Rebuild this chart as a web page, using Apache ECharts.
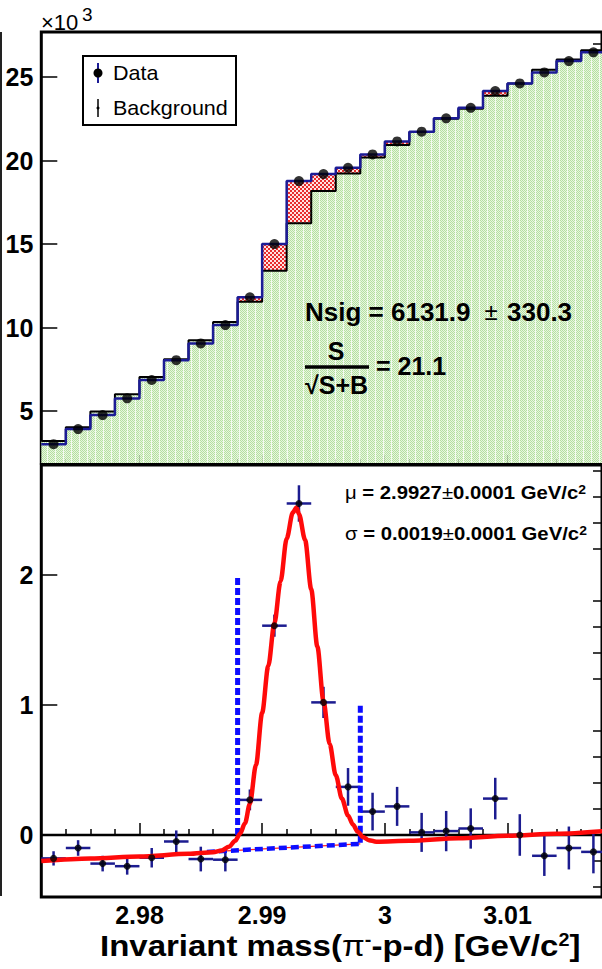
<!DOCTYPE html>
<html><head><meta charset="utf-8">
<script src="https://cdn.jsdelivr.net/npm/echarts@6/dist/echarts.min.js"></script>
<style>html,body{margin:0;padding:0;background:#fff}#c{width:602px;height:969px}</style>
</head><body><div id="c"></div>
<script>
// ---------- data ----------
const binCenters = [2.973, 2.975, 2.977, 2.979, 2.981, 2.983, 2.985, 2.987, 2.989, 2.991, 2.993, 2.995,
                    2.997, 2.999, 3.001, 3.003, 3.005, 3.007, 3.009, 3.011, 3.013, 3.015, 3.017];
// top panel, counts in units of 10^3
const dataCounts = [3.02, 3.92, 4.76, 5.76, 6.86, 8.05, 9.05, 10.15, 11.81, 15.00, 18.77, 19.19,
                    19.57, 20.37, 21.15, 21.73, 22.53, 23.16, 24.16, 24.62, 25.28, 25.96, 26.48];
const bkgCounts  = [3.20, 4.03, 4.98, 6.00, 7.04, 8.10, 9.24, 10.34, 11.54, 13.40, 16.25, 18.18,
                    19.22, 20.19, 20.93, 21.71, 22.50, 23.11, 23.88, 24.62, 25.44, 26.06, 26.61];
// bottom panel: background-subtracted data (10^3)
const residuals  = [-0.18, -0.10, -0.22, -0.24, -0.175, -0.05, -0.185, -0.19, 0.27, 1.61, 2.55, 1.02,
                    0.37, 0.18, 0.22, 0.02, 0.03, 0.05, 0.28, 0.00, -0.16, -0.10, -0.13];
const residualErrors = [0.055, 0.06, 0.06, 0.065, 0.075, 0.085, 0.095, 0.09, 0.08, 0.085, 0.14, 0.12,
                    0.145, 0.145, 0.15, 0.15, 0.155, 0.155, 0.16, 0.16, 0.155, 0.165, 0.165];
// fitted curve
const fitCurveX = [2.972, 2.976, 2.980, 2.984, 2.986, 2.9867, 2.9873, 2.9878, 2.9882, 2.9886, 2.989, 2.9895, 2.990,
                   2.9905, 2.991, 2.9915, 2.992, 2.9925, 2.9928, 2.993, 2.9935, 2.994, 2.9945, 2.995, 2.9955,
                   2.996, 2.9965, 2.997, 2.9974, 2.9978, 2.9982, 2.9987, 2.9993, 3.002, 3.006, 3.010, 3.014, 3.0178];
const fitCurveY = [-0.20, -0.18, -0.165, -0.145, -0.132, -0.12, -0.09, -0.045, 0.01, 0.09, 0.24, 0.54, 0.94,
                   1.30, 1.63, 1.95, 2.28, 2.48, 2.52, 2.47, 2.27, 1.89, 1.45, 1.03, 0.70,
                   0.46, 0.28, 0.15, 0.08, 0.025, -0.015, -0.04, -0.052, -0.045, -0.025, -0.005, 0.01, 0.03];
// background line inside signal window (dashed) and window edges
const bgLineX = [2.9855, 2.998];
const bgLineY = [-0.13, -0.068];
const windowLeft  = [[2.988, 0.0], [2.988, 2.0]];
const windowRight = [[2.998, -0.06], [2.998, 1.0]];
// ticks
const topMajorTicks = [5, 10, 15, 20, 25];
const bottomMajorTicks = [0, 1, 2];
const xMajorTicks = [2.98, 2.99, 3.00, 3.01];
const xTickLabels = ['2.98', '2.99', '3', '3.01'];

// ---------- layout / style ----------
const BW = 0.002;
const X_MIN = 2.972, X_MAX = 3.0177;
const TOP_YMIN = 1.89, TOP_YMAX = 27.7;
const BOT_YMIN = -0.477, BOT_YMAX = 2.846;
const FONT = '"Liberation Sans", Arial, Helvetica, sans-serif';

function makeTile(w, h, fn) {
  const c = document.createElement('canvas'); c.width = w; c.height = h;
  const ctx = c.getContext('2d');
  for (let y = 0; y < h; y++) for (let x = 0; x < w; x++) { ctx.fillStyle = fn(x, y); ctx.fillRect(x, y, 1, 1); }
  return c.toDataURL();
}
const greenPat = { image: makeTile(8, 2, (x, y) => x === 7 ? '#f4fbf0' : ((x + y) % 2 === 0 ? '#b4e0a0' : '#e8f6e0')), repeat: 'repeat', imageWidth: 8, imageHeight: 2 };
const redPat = { image: makeTile(4, 4, (x, y) => ((Math.floor(x / 2) + Math.floor(y / 2)) % 2 === 0) ? '#e82c2c' : '#ffe2e2'), repeat: 'repeat', imageWidth: 4, imageHeight: 4 };

function range(a, b, s) { const o = []; for (let v = a; v <= b + 1e-9; v += s) o.push(+v.toFixed(4)); return o; }
const xMinorTicks = range(2.974, 3.016, 0.002).filter(v => !xMajorTicks.some(m => Math.abs(m - v) < 1e-6));
const topMinorTicks = range(2, 27, 1).filter(v => v % 5 !== 0);
const botMinorTicks = range(-0.4, 2.8, 0.2).filter(v => Math.abs(v - Math.round(v)) > 1e-6);

const edgesOf = vals => {
  const out = binCenters.map((c, i) => [+(c - BW / 2).toFixed(4), vals[i]]);
  out.push([+(binCenters[binCenters.length - 1] + BW / 2).toFixed(4), vals[vals.length - 1]]);
  return out;
};

function xAxisDef(grid, ticks, len, labels) {
  return {
    type: 'value', gridIndex: grid, min: X_MIN, max: X_MAX, position: 'bottom',
    axisLine: { show: false }, splitLine: { show: false },
    axisTick: { show: true, inside: true, length: len, customValues: ticks, lineStyle: { color: '#000', width: 1.5 } },
    axisLabel: labels ? {
      show: true, customValues: xMajorTicks, margin: 5,
      formatter: v => { const i = xMajorTicks.findIndex(m => Math.abs(m - v) < 1e-6); return i >= 0 ? xTickLabels[i] : ''; },
      fontFamily: FONT, fontWeight: 'bold', fontSize: 25, color: '#000'
    } : { show: false }
  };
}
function yAxisDef(grid, min, max, ticks, len, labels) {
  return {
    type: 'value', gridIndex: grid, min: min, max: max,
    axisLine: { show: false }, splitLine: { show: false },
    axisTick: { show: true, inside: true, length: len, customValues: ticks, lineStyle: { color: '#000', width: 1.5 } },
    axisLabel: labels ? {
      show: true, customValues: ticks, margin: 8,
      fontFamily: FONT, fontWeight: 'bold', fontSize: 25, color: '#000'
    } : { show: false }
  };
}

// dashed polyline drawn through the axes (custom series)
function dashedSeries(points, width, dash, z) {
  return {
    type: 'custom', xAxisIndex: 2, yAxisIndex: 2, z: z, clip: true,
    data: [0],
    renderItem: (p, api) => ({
      type: 'polyline',
      shape: { points: points.map(pt => api.coord(pt)) },
      style: { stroke: '#0d0dff', fill: null, lineWidth: width, lineDash: dash, lineCap: 'butt' }
    })
  };
}

const chart = echarts.init(document.getElementById('c'), null, { renderer: 'svg', width: 602, height: 969 });

const option = {
  animation: false,
  backgroundColor: '#fff',
  grid: [
    { left: 41.3, top: 32, right: -3, height: 431, show: true, borderColor: '#000', borderWidth: 3, backgroundColor: 'transparent' },
    { left: 41.3, top: 465, right: -3, height: 432, show: true, borderColor: '#000', borderWidth: 3, backgroundColor: 'transparent' }
  ],
  xAxis: [
    xAxisDef(0, xMajorTicks, 8, false),
    xAxisDef(0, xMinorTicks, 4, false),
    xAxisDef(1, xMajorTicks, 12, true),
    xAxisDef(1, xMinorTicks, 6, false)
  ],
  yAxis: [
    yAxisDef(0, TOP_YMIN, TOP_YMAX, topMajorTicks, 16, true),
    yAxisDef(0, TOP_YMIN, TOP_YMAX, topMinorTicks, 9, false),
    yAxisDef(1, BOT_YMIN, BOT_YMAX, bottomMajorTicks, 16, true),
    yAxisDef(1, BOT_YMIN, BOT_YMAX, botMinorTicks, 9, false)
  ],
  series: [
    // ----- top panel -----
    {
      type: 'custom', xAxisIndex: 0, yAxisIndex: 0, clip: true, z: 1,
      data: binCenters.map((c, i) => [c, bkgCounts[i]]),
      renderItem: (p, api) => {
        const a = api.coord([api.value(0) - BW / 2, api.value(1)]);
        const b = api.coord([api.value(0) + BW / 2, TOP_YMIN]);
        return { type: 'rect', shape: { x: a[0], y: a[1], width: b[0] - a[0], height: b[1] - a[1] }, style: { fill: greenPat } };
      }
    },
    {
      type: 'custom', xAxisIndex: 0, yAxisIndex: 0, clip: true, z: 1,
      data: binCenters.map((c, i) => [c, bkgCounts[i], dataCounts[i]]).filter(d => d[2] > d[1]),
      renderItem: (p, api) => {
        const a = api.coord([api.value(0) - BW / 2, api.value(2)]);
        const b = api.coord([api.value(0) + BW / 2, api.value(1)]);
        return { type: 'rect', shape: { x: a[0], y: a[1], width: b[0] - a[0], height: b[1] - a[1] }, style: { fill: redPat } };
      }
    },
    {
      type: 'line', xAxisIndex: 0, yAxisIndex: 0, step: 'end', symbol: 'none', z: 3, clip: true,
      data: edgesOf(bkgCounts), lineStyle: { color: '#000', width: 2 }
    },
    {
      type: 'line', xAxisIndex: 0, yAxisIndex: 0, step: 'end', symbol: 'none', z: 4, clip: true,
      data: edgesOf(dataCounts), lineStyle: { color: '#1c1c96', width: 2.5 }
    },
    {
      type: 'scatter', xAxisIndex: 0, yAxisIndex: 0, z: 5, symbol: 'circle', symbolSize: 10,
      data: binCenters.map((c, i) => [c, dataCounts[i]]), itemStyle: { color: '#000' }
    },
    // ----- bottom panel -----
    {
      type: 'line', xAxisIndex: 2, yAxisIndex: 2, symbol: 'none', z: 2,
      data: [[X_MIN, 0], [X_MAX, 0]], lineStyle: { color: '#000', width: 2.5 }
    },
    {
      type: 'custom', xAxisIndex: 2, yAxisIndex: 2, z: 3, clip: true,
      data: binCenters.map((c, i) => [c, residuals[i], residualErrors[i]]),
      renderItem: (p, api) => {
        const x = api.value(0), y = api.value(1), e = api.value(2);
        const l = api.coord([x - BW / 2, y]), r = api.coord([x + BW / 2, y]);
        const lo = api.coord([x, y - e]), hi = api.coord([x, y + e]);
        const st = { stroke: '#1c1c90', lineWidth: 2.5 };
        return { type: 'group', children: [
          { type: 'line', shape: { x1: l[0], y1: l[1], x2: r[0], y2: r[1] }, style: st },
          { type: 'line', shape: { x1: lo[0], y1: lo[1], x2: hi[0], y2: hi[1] }, style: st }
        ] };
      }
    },
    {
      type: 'line', xAxisIndex: 2, yAxisIndex: 2, symbol: 'none', z: 4,
      data: bgLineX.map((x, i) => [x, bgLineY[i]]), lineStyle: { color: '#ff2020', width: 1.2 }
    },
    dashedSeries(bgLineX.map((x, i) => [x, bgLineY[i]]), 4.5, [8, 4], 5),
    dashedSeries(windowLeft, 5, [7, 3], 5),
    dashedSeries(windowRight, 5, [7, 3], 5),
    {
      type: 'line', xAxisIndex: 2, yAxisIndex: 2, symbol: 'none', z: 6, clip: true,
      smooth: 0.3, smoothMonotone: 'x',
      data: fitCurveX.map((x, i) => [x, fitCurveY[i]]), lineStyle: { color: '#ff0a0a', width: 4.5 }
    },
    {
      type: 'scatter', xAxisIndex: 2, yAxisIndex: 2, z: 7, symbol: 'circle', symbolSize: 7,
      data: binCenters.map((c, i) => [c, residuals[i]]), itemStyle: { color: '#000' }
    }
  ],
  graphic: [
    // left-edge frame fragment
    { type: 'line', shape: { x1: 1, y1: 32, x2: 1, y2: 896 }, style: { stroke: '#222', lineWidth: 2 }, z: 100 },
    // x10^3
    { type: 'text', x: 41, y: 22, z: 100, style: { text: '×10', fontFamily: FONT, fontSize: 22, fill: '#000', align: 'left', verticalAlign: 'middle' } },
    { type: 'text', x: 82, y: 14, z: 100, style: { text: '3', fontFamily: FONT, fontSize: 19, fill: '#000', align: 'left', verticalAlign: 'middle' } },
    // legend
    { type: 'rect', z: 100, shape: { x: 83, y: 56, width: 153, height: 69 }, style: { fill: '#fff', stroke: '#000', lineWidth: 2 } },
    { type: 'line', z: 101, shape: { x1: 98, y1: 63, x2: 98, y2: 83 }, style: { stroke: '#1c1c96', lineWidth: 2 } },
    { type: 'circle', z: 102, shape: { cx: 98, cy: 73, r: 4.5 }, style: { fill: '#000' } },
    { type: 'line', z: 101, shape: { x1: 98, y1: 99, x2: 98, y2: 117 }, style: { stroke: '#000', lineWidth: 1.5 } },
    { type: 'circle', z: 102, shape: { cx: 98, cy: 108, r: 1.5 }, style: { fill: '#000' } },
    { type: 'text', x: 113, y: 73, z: 101, scaleX: 1.05, style: { text: 'Data', fontFamily: FONT, fontSize: 20.5, fill: '#000', align: 'left', verticalAlign: 'middle' } },
    { type: 'text', x: 113, y: 108, z: 101, scaleX: 1.05, style: { text: 'Background', fontFamily: FONT, fontSize: 20.5, fill: '#000', align: 'left', verticalAlign: 'middle' } },
    // Nsig
    { type: 'text', x: 305, y: 312, z: 100, style: { text: 'Nsig = 6131.9', fontFamily: FONT, fontWeight: 'bold', fontSize: 26, fill: '#000', align: 'left', verticalAlign: 'middle' } },
    { type: 'text', x: 491, y: 311, z: 100, style: { text: '±', fontFamily: FONT, fontSize: 24, fill: '#000', align: 'center', verticalAlign: 'middle' } },
    { type: 'text', x: 507, y: 312, z: 100, style: { text: '330.3', fontFamily: FONT, fontWeight: 'bold', fontSize: 26, fill: '#000', align: 'left', verticalAlign: 'middle' } },
    // S / sqrt(S+B)
    { type: 'text', x: 336, y: 351, z: 100, style: { text: 'S', fontFamily: FONT, fontWeight: 'bold', fontSize: 25, fill: '#000', align: 'center', verticalAlign: 'middle' } },
    { type: 'line', z: 100, shape: { x1: 305, y1: 367, x2: 369, y2: 367 }, style: { stroke: '#000', lineWidth: 3.5 } },
    { type: 'text', x: 305, y: 385, z: 100, style: { text: '√S+B', fontFamily: FONT, fontWeight: 'bold', fontSize: 25, fill: '#000', align: 'left', verticalAlign: 'middle' } },
    { type: 'text', x: 376, y: 366, z: 100, style: { text: '= 21.1', fontFamily: FONT, fontWeight: 'bold', fontSize: 25, fill: '#000', align: 'left', verticalAlign: 'middle' } },
    // mu, sigma
    { type: 'text', x: 345, y: 493, z: 100, scaleX: 1.16, style: {
        text: '{g|μ}{b| = 2.9927}{g|±}{b|0.0001 GeV/c}{s|2}', verticalAlign: 'middle', align: 'left',
        rich: { g: { fontFamily: FONT, fontSize: 17.5, fill: '#000' }, b: { fontFamily: FONT, fontWeight: 'bold', fontSize: 17.5, fill: '#000' },
                s: { fontFamily: FONT, fontWeight: 'bold', fontSize: 12, fill: '#000', verticalAlign: 'top' } } } },
    { type: 'text', x: 345, y: 534, z: 100, scaleX: 1.16, style: {
        text: '{g|σ}{b| = 0.0019}{g|±}{b|0.0001 GeV/c}{s|2}', verticalAlign: 'middle', align: 'left',
        rich: { g: { fontFamily: FONT, fontSize: 17.5, fill: '#000' }, b: { fontFamily: FONT, fontWeight: 'bold', fontSize: 17.5, fill: '#000' },
                s: { fontFamily: FONT, fontWeight: 'bold', fontSize: 12, fill: '#000', verticalAlign: 'top' } } } },
    // x title
    { type: 'text', x: 100, y: 946, z: 100, scaleX: 1.1, style: {
        text: '{b|Invariant mass(}{g|π}{s|-}{b|-p-d) [GeV/c}{s|2}{b|]}', verticalAlign: 'middle', align: 'left',
        rich: { b: { fontFamily: FONT, fontWeight: 'bold', fontSize: 30, fill: '#000' },
                g: { fontFamily: FONT, fontSize: 30, fill: '#000' },
                s: { fontFamily: FONT, fontWeight: 'bold', fontSize: 18, fill: '#000', verticalAlign: 'top' } } } }
  ]
};
chart.setOption(option);
</script>
</body></html>
